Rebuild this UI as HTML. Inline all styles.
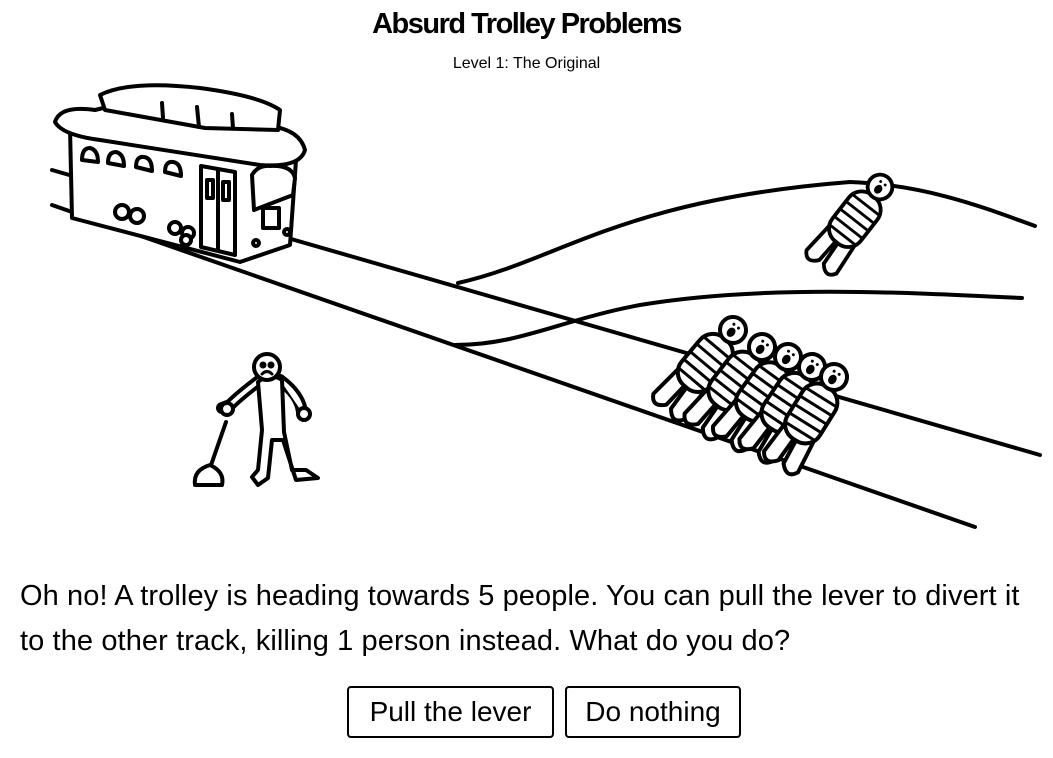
<!DOCTYPE html>
<html><head><meta charset="utf-8"><style>
html,body{margin:0;padding:0;background:#fff;width:1053px;height:758px;overflow:hidden;}
body{position:relative;font-family:"Liberation Sans Narrow","Liberation Sans",sans-serif;color:#000;}
.t{position:absolute;left:0;width:1053px;text-align:center;}
#title{top:8px;font-size:29px;font-weight:bold;letter-spacing:-1.5px;}
#sub{top:55px;font-size:16px;}
#p{position:absolute;left:20px;top:574px;font-size:29px;line-height:45px;width:1030px;letter-spacing:0.1px;}
.b{position:absolute;top:686px;height:52px;border:2px solid #000;border-radius:4px;box-sizing:border-box;font-size:28px;line-height:48px;text-align:center;background:#fff;}
svg{position:absolute;left:0;top:0;}
</style></head><body>
<svg width="1053" height="758" viewBox="0 0 1053 758" fill="none" stroke="#000" stroke-width="4" stroke-linecap="round" stroke-linejoin="round">
<defs>
<g id="pp">
 <path d="M-17 66 L-20 100 Q-13 112 -3 100 L-1 68 M1 68 L3 100 Q13 112 20 100 L17 66" fill="#fff"/>
 <rect x="-19" y="12" width="38" height="62" rx="17" fill="#fff"/>
 <path d="M-17 24H17M-18 34H18M-18 44H18M-18 54H18M-16 64H16" stroke-width="3"/>
 <circle cx="0" cy="0" r="13" fill="#fff"/>
 <ellipse cx="0" cy="3" rx="4" ry="5" fill="#000" stroke="none"/>
 <circle cx="-3" cy="-5" r="1.5" fill="#000" stroke="none"/><circle cx="3" cy="-5" r="1.5" fill="#000" stroke="none"/>
</g>
</defs>
<path d="M52 205 L975 527"/>
<path d="M52 170 L1040 455"/>
<path d="M458 283 C560 260 620 200 850 182 C930 185 990 210 1035 226"/>
<path d="M455 345 C520 345 560 320 640 305 C760 285 900 292 1022 298"/>
<g fill="#fff">
<path d="M70 128 L72 218 L240 262 L290 245 L296 160 L258 150 Z"/>
<path d="M95 110 Q60 105 55 122 Q62 135 100 140 L260 165 Q300 168 305 150 Q300 130 270 126 L120 104 Z"/>
<path d="M100 95 Q130 80 200 88 Q260 96 280 110 L278 130 L205 128 L105 110 Z"/>
<path d="M162 103 L163 118 M197 107 L199 127 M232 114 L233 128" />
<path d="M82 160 Q82 148 90 148 Q98 150 98 162 Z M108 163 Q108 152 116 152 Q124 154 124 166 Z M136 167 Q136 156 144 157 Q152 158 152 171 Z M165 172 Q165 161 173 162 Q181 163 181 176 Z"/>
<path d="M201 166 L235 172 L235 255 L201 247 Z M218 170 L218 251"/>
<rect x="207" y="180" width="6" height="18"/><rect x="223" y="182" width="6" height="18"/>
<path d="M252 175 Q258 165 270 166 Q292 165 295 178 L293 195 L254 210 Z"/>
<rect x="263" y="208" width="16" height="20"/>
<circle cx="122" cy="212" r="7"/><circle cx="137" cy="216" r="7"/><circle cx="175" cy="228" r="6"/><circle cx="188" cy="233" r="6"/><circle cx="186" cy="240" r="5"/>
<circle cx="256" cy="243" r="3"/><circle cx="287" cy="232" r="3"/>
</g>
<use href="#pp" transform="translate(880,187) rotate(38) scale(0.95)"/>
<use href="#pp" transform="translate(733,330) rotate(40)"/>
<use href="#pp" transform="translate(762,347) rotate(38)"/>
<use href="#pp" transform="translate(788,357) rotate(36)"/>
<use href="#pp" transform="translate(812,367) rotate(34)"/>
<use href="#pp" transform="translate(834,377) rotate(32)"/>
<g fill="#fff">
<path d="M210 468 L226 422"/>
<path d="M195 485 Q193 470 210 465 Q225 472 222 485 Z"/>
<path d="M260 380 Q240 395 230 405 L222 408 M280 380 Q300 395 302 412" stroke-width="12"/>
<path d="M260 380 Q240 395 230 405 L222 408 M280 380 Q300 395 302 412" stroke="#fff" stroke-width="4"/>
<path d="M258 382 Q270 372 282 380 L284 432 L292 470 L306 470 L318 478 L296 480 L283 440 L272 440 L268 478 L258 485 L252 477 L258 470 L262 430 Z"/>
<circle cx="227" cy="409" r="6"/><circle cx="304" cy="414" r="6"/>
<circle cx="267" cy="367" r="13"/>
<circle cx="263" cy="365" r="1.5" fill="#000"/><circle cx="271" cy="365" r="1.5" fill="#000"/>
<path d="M262 374 Q267 369 272 374" stroke-width="3"/>
</g>
</svg>
<div class="t" id="title">Absurd Trolley Problems</div>
<div class="t" id="sub">Level 1: The Original</div>
<div id="p">Oh no! A trolley is heading towards 5 people. You can pull the lever to divert it<br>to the other track, killing 1 person instead. What do you do?</div>
<div class="b" style="left:347px;width:207px;">Pull the lever</div>
<div class="b" style="left:565px;width:176px;">Do nothing</div>
</body></html>
